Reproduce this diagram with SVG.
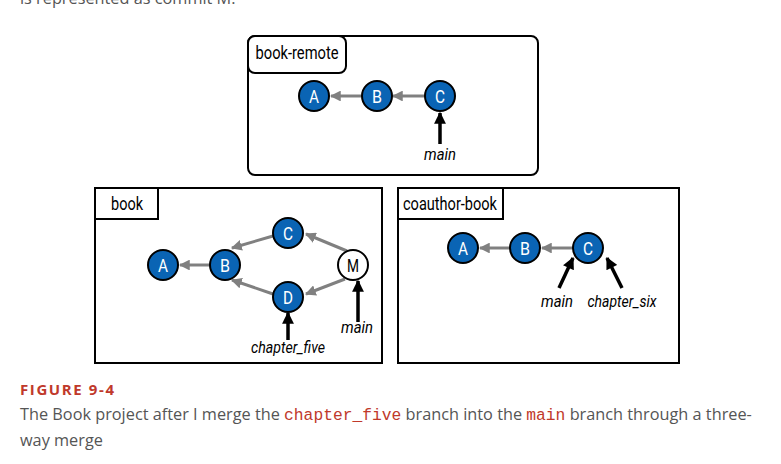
<svg xmlns="http://www.w3.org/2000/svg" width="781" height="464" viewBox="0 0 781 464">
<defs>
<style>
.box{fill:#fff;stroke:#000;stroke-width:2}
.lbl{font-family:Roboto,'Liberation Sans',sans-serif;font-size:18px;fill:#000;text-anchor:middle}
.node{fill:#0a64b4;stroke:#000;stroke-width:2}
.merge{fill:#fff;stroke:#000;stroke-width:2}
.nt{font-family:Roboto,'Liberation Sans',sans-serif;font-size:18px;fill:#fff;text-anchor:middle}
.ntb{font-family:Roboto,'Liberation Sans',sans-serif;font-size:18px;fill:#000;text-anchor:middle}
.br{font-family:Roboto,'Liberation Sans',sans-serif;font-size:17px;font-style:italic;fill:#000;text-anchor:middle}
.gl{stroke:#808080;stroke-width:3;fill:none;marker-end:url(#ga)}
.bl{stroke:#000;stroke-width:3.5;fill:none;marker-end:url(#ba)}
.cap{font-family:'Open Sans','Liberation Sans',sans-serif;font-size:16.3px;fill:#555}
.code{font-family:'Liberation Mono',monospace;font-size:16.3px;fill:#c0392b}
</style>
<marker id="ga" viewBox="0 0 10 10" refX="9" refY="5" markerWidth="3.6" markerHeight="3.6" orient="auto" markerUnits="strokeWidth">
<path d="M0,0 L10,5 L0,10 Z" fill="#808080"/>
</marker>
<marker id="ba" viewBox="0 0 10 10" refX="9" refY="5" markerWidth="3.6" markerHeight="3.4" orient="auto" markerUnits="strokeWidth">
<path d="M0,0 L10,5 L0,10 Z" fill="#000"/>
</marker>
</defs>
<rect width="781" height="464" fill="#fff"/>
<text x="20" y="4" class="cap" font-size="17">is represented as commit M.</text>

<g id="book-remote">
<rect class="box" x="248" y="36" width="290" height="139" rx="7"/>
<rect class="box" x="248" y="36" width="98" height="37" rx="7"/>
<text class="lbl" x="297" y="59" textLength="83" lengthAdjust="spacingAndGlyphs">book-remote</text>
</g>
<g id="book">
<rect class="box" x="95" y="188" width="287" height="175"/>
<rect class="box" x="95" y="188" width="63" height="31"/>
<text class="lbl" x="127" y="210" textLength="32" lengthAdjust="spacingAndGlyphs">book</text>
</g>
<g id="coauthor-book">
<rect class="box" x="398" y="188" width="281" height="175"/>
<rect class="box" x="398" y="188" width="105" height="31"/>
<text class="lbl" x="450" y="210" textLength="94" lengthAdjust="spacingAndGlyphs">coauthor-book</text>
</g>

<g id="connectors">
<line class="gl" x1="361" y1="96" x2="331" y2="96"/>
<line class="gl" x1="425" y1="96" x2="393" y2="96"/>
<line class="bl" x1="440" y1="144" x2="440" y2="113"/>
<line class="gl" x1="210" y1="265" x2="180" y2="265"/>
<line class="gl" x1="273" y1="236" x2="232" y2="248"/>
<line class="gl" x1="273" y1="294" x2="232" y2="280"/>
<line class="gl" x1="347" y1="251" x2="306" y2="234"/>
<line class="gl" x1="345" y1="279" x2="306" y2="294"/>
<line class="bl" x1="288" y1="340" x2="288" y2="313"/>
<line class="bl" x1="358" y1="322" x2="358" y2="281"/>
<line class="gl" x1="510" y1="248" x2="480" y2="248"/>
<line class="gl" x1="573" y1="248" x2="542" y2="248"/>
<line class="bl" x1="559" y1="288" x2="573" y2="258"/>
<line class="bl" x1="622" y1="288" x2="607" y2="258"/>
</g>

<g id="r-A"><circle class="node" cx="314" cy="96" r="15"/><text class="nt" x="314" y="102.5" textLength="10" lengthAdjust="spacingAndGlyphs">A</text></g>
<g id="r-B"><circle class="node" cx="377" cy="96" r="15"/><text class="nt" x="377" y="102.5" textLength="10" lengthAdjust="spacingAndGlyphs">B</text></g>
<g id="r-C"><circle class="node" cx="440" cy="96" r="15"/><text class="nt" x="440" y="102.5" textLength="10" lengthAdjust="spacingAndGlyphs">C</text></g>
<g id="r-main"><text class="br" x="440" y="160" textLength="32" lengthAdjust="spacingAndGlyphs">main</text></g>

<g id="b-A"><circle class="node" cx="163" cy="265" r="15"/><text class="nt" x="163" y="271.5" textLength="10" lengthAdjust="spacingAndGlyphs">A</text></g>
<g id="b-B"><circle class="node" cx="225" cy="265" r="15"/><text class="nt" x="225" y="271.5" textLength="10" lengthAdjust="spacingAndGlyphs">B</text></g>
<g id="b-C"><circle class="node" cx="288" cy="233" r="15"/><text class="nt" x="288" y="239.5" textLength="10" lengthAdjust="spacingAndGlyphs">C</text></g>
<g id="b-D"><circle class="node" cx="288" cy="297" r="15"/><text class="nt" x="288" y="303.5" textLength="10" lengthAdjust="spacingAndGlyphs">D</text></g>
<g id="b-M"><circle class="merge" cx="353" cy="265" r="15"/><text class="ntb" x="353" y="271.5" textLength="12" lengthAdjust="spacingAndGlyphs">M</text></g>
<g id="b-chapter_five"><text class="br" x="288" y="353" textLength="74" lengthAdjust="spacingAndGlyphs">chapter_five</text></g>
<g id="b-main"><text class="br" x="357" y="333" textLength="32" lengthAdjust="spacingAndGlyphs">main</text></g>

<g id="c-A"><circle class="node" cx="463" cy="248" r="15"/><text class="nt" x="463" y="254.5" textLength="10" lengthAdjust="spacingAndGlyphs">A</text></g>
<g id="c-B"><circle class="node" cx="525" cy="248" r="15"/><text class="nt" x="525" y="254.5" textLength="10" lengthAdjust="spacingAndGlyphs">B</text></g>
<g id="c-C"><circle class="node" cx="588" cy="248" r="15"/><text class="nt" x="588" y="254.5" textLength="10" lengthAdjust="spacingAndGlyphs">C</text></g>
<g id="c-main"><text class="br" x="557" y="307" textLength="32" lengthAdjust="spacingAndGlyphs">main</text></g>
<g id="c-chapter_six"><text class="br" x="622" y="307" textLength="69" lengthAdjust="spacingAndGlyphs">chapter_six</text></g>

<g id="caption">
<text x="20" y="395" font-family="'Open Sans','Liberation Sans',sans-serif" font-size="15" font-weight="bold" fill="#c0392b" letter-spacing="1.6">FIGURE 9-4</text>
<text x="20" y="420" class="cap">The Book project after I merge the <tspan class="code">chapter_five</tspan> branch into the <tspan class="code">main</tspan> branch through a three-</text>
<text x="20" y="446" class="cap">way merge</text>
</g>
</svg>
